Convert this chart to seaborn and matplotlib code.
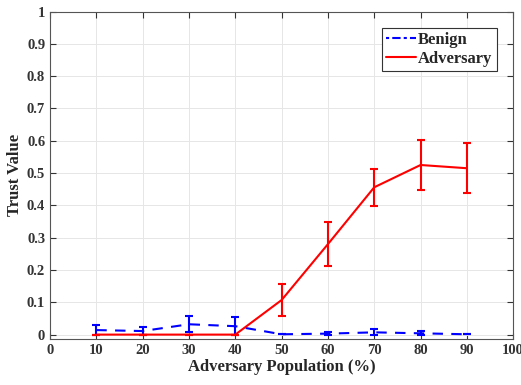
import matplotlib
matplotlib.use('Agg')
from matplotlib import pyplot as plt
from matplotlib.lines import Line2D
import pandas as pd
import seaborn as sns

population = [10, 20, 30, 40, 50, 60, 70, 80, 90]
benign_mean = [0.014, 0.011, 0.032, 0.026, 0.001, 0.003, 0.007, 0.004, 0.001]
benign_err = [0.015, 0.011, 0.025, 0.027, 0.0, 0.004, 0.009, 0.006, 0.0]
adv_mean = [0.0, 0.0, 0.0, 0.0, 0.107, 0.28, 0.456, 0.525, 0.515]
adv_err = [0.0, 0.0, 0.0, 0.0, 0.049, 0.068, 0.058, 0.078, 0.077]

df = pd.DataFrame({"pop": population * 2,
                   "trust": benign_mean + adv_mean,
                   "err": benign_err + adv_err,
                   "group": ["Benign"] * 9 + ["Adversary"] * 9})

sns.set_style("whitegrid")
plt.rcParams['font.family'] = ['Liberation Serif', 'DejaVu Serif']
plt.rcParams['xtick.direction'] = 'in'
plt.rcParams['ytick.direction'] = 'in'

fig, ax = plt.subplots(figsize=(5.21, 3.85), dpi=100)
colors = {"Benign": "#0000ff", "Adversary": "#ff0000"}
styles = {"Benign": (0, (5, 4)), "Adversary": "-"}
for g in ["Benign", "Adversary"]:
    sub = df[df.group == g]
    ax.errorbar(sub["pop"], sub["trust"], yerr=sub["err"], color=colors[g],
                linestyle=styles[g], linewidth=1.5, capsize=3, capthick=1.5,
                elinewidth=1.5)

ax.set_xlim(0, 100)
ax.set_ylim(-0.013, 1)
ax.set_xticks(range(0, 101, 10))
ax.set_yticks([i / 10 for i in range(11)])
ax.set_yticklabels(["0", "0.1", "0.2", "0.3", "0.4", "0.5", "0.6", "0.7", "0.8", "0.9", "1"])
ax.grid(True, color="#e6e6e6", linewidth=0.7)
for s in ax.spines.values():
    s.set_visible(True)
    s.set_color("#555555")
    s.set_linewidth(0.8)
ax.tick_params(axis='both', labelsize=10.5, colors="#333333", length=4, width=0.8,
               top=True, right=True, bottom=True, left=True)
for lab in ax.get_xticklabels() + ax.get_yticklabels():
    lab.set_fontweight('semibold')
ax.set_xlabel("Adversary Population (%)", fontsize=12, fontweight='bold', labelpad=2)
ax.set_ylabel("Trust Value", fontsize=12, fontweight='bold', labelpad=3)
handles = [Line2D([], [], color=colors["Benign"], linestyle=(0, (1.5, 1.5, 4, 1.5)), linewidth=1.5),
           Line2D([], [], color=colors["Adversary"], linestyle="-", linewidth=1.5)]
leg = ax.legend(handles, ["Benign", "Adversary"], loc='upper right',
                bbox_to_anchor=(0.975, 0.965), frameon=True, fancybox=False,
                edgecolor="#333333", framealpha=1,
                handlelength=1.8, handletextpad=0.1, borderpad=0.25, labelspacing=0.15,
                borderaxespad=0.3, prop={'weight': 'bold', 'size': 12})
leg.get_frame().set_linewidth(0.8)

fig.subplots_adjust(left=0.096, right=0.985, top=0.97, bottom=0.12)
plt.savefig("out.png", dpi=100)
